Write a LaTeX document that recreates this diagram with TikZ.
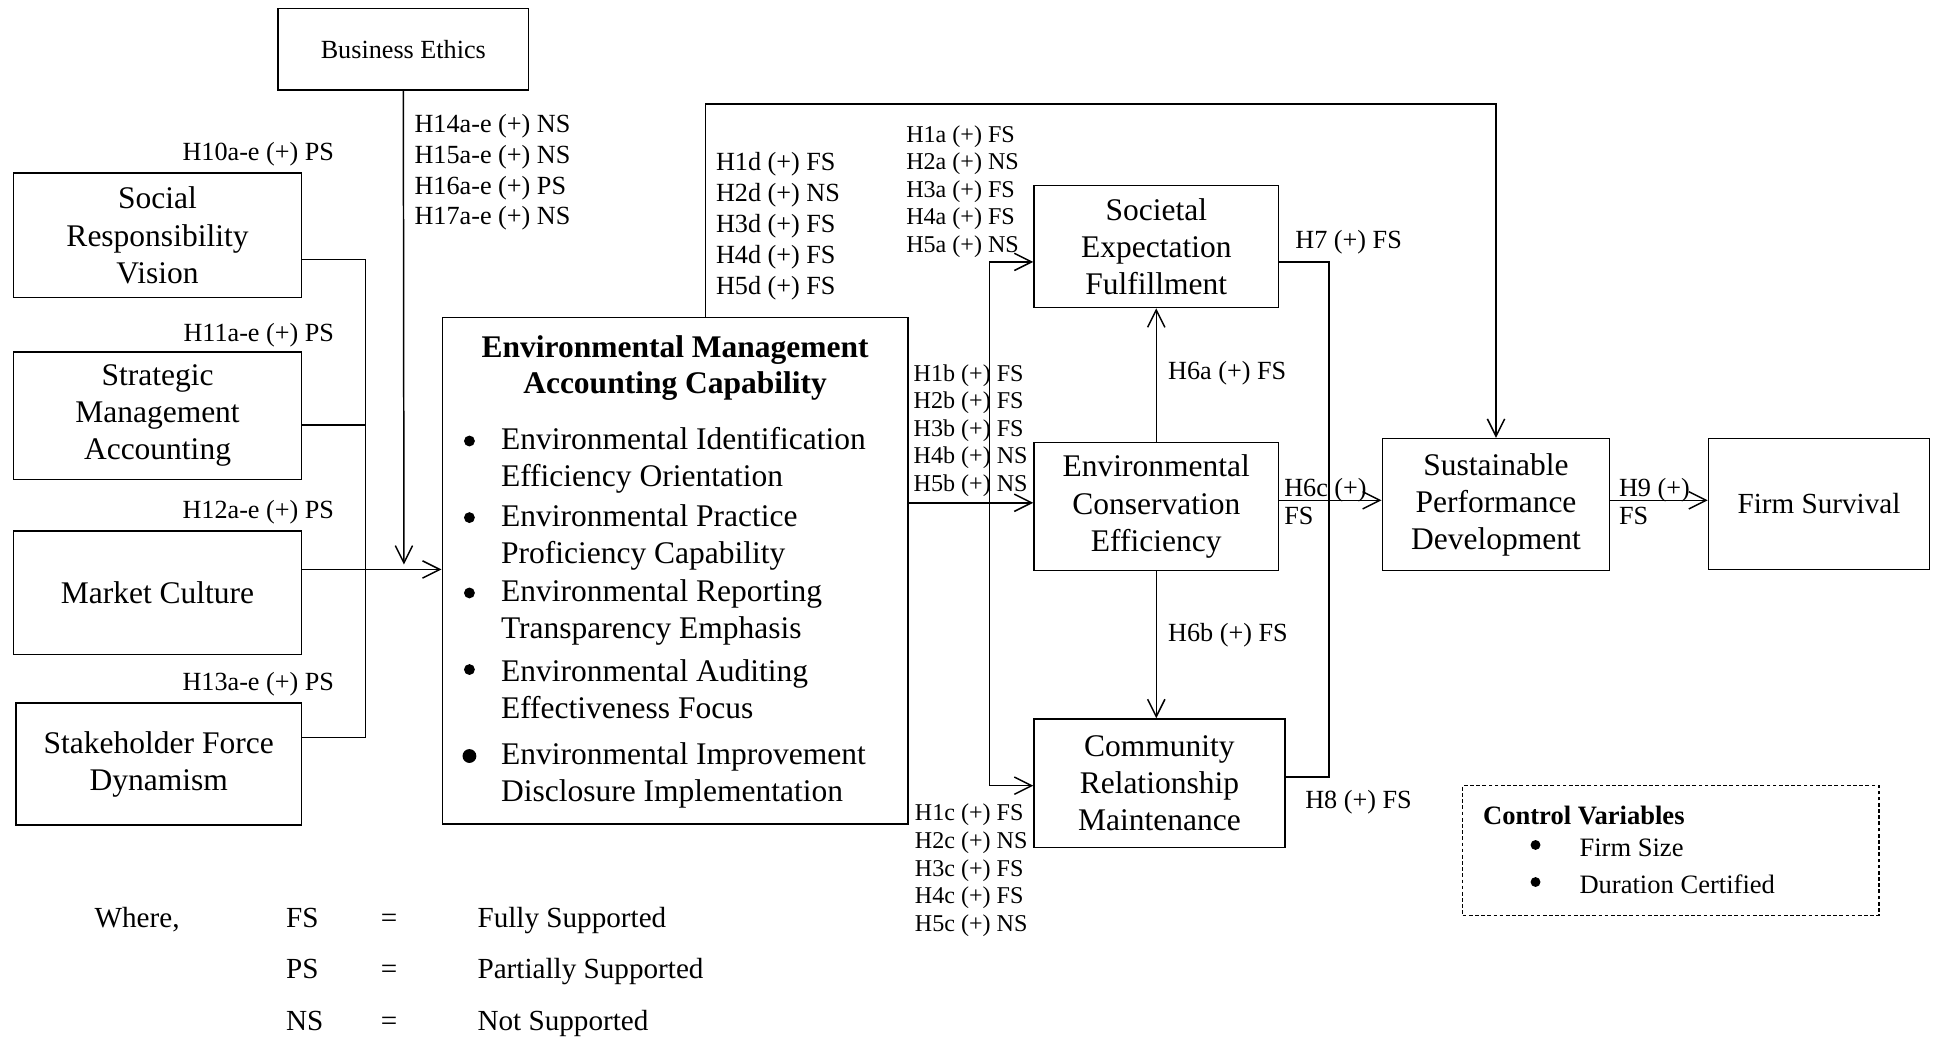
\documentclass[tikz,border=0pt]{standalone}
\usepackage{fontspec}
\setmainfont{Liberation Serif}
\usetikzlibrary{arrows.meta}

\begin{document}
\begin{tikzpicture}[
  x=0.5pt, y=-0.5pt, line width=0.6pt,
  box/.style={draw, inner sep=0pt, align=center, font=\fontsize{12.75}{15}\selectfont},
  hyp/.style={inner sep=0pt, align=left, font=\fontsize{10.6}{12.5}\selectfont},
  hypsm/.style={inner sep=0pt, align=left, font=\fontsize{9.75}{11.15}\selectfont},
  item/.style={inner sep=0pt, align=left, anchor=west, font=\fontsize{12.75}{15}\selectfont},
  key/.style={inner sep=0pt, anchor=base west, font=\fontsize{11.8}{14}\selectfont},
  arr/.style={-{Straight Barb[length=7pt, width=7pt]}}
]
  \useasboundingbox (0,0) rectangle (1568,839);

  % antecedents
  \node[box, minimum width=101.5pt, minimum height=33pt, font=\fontsize{10.6}{12.5}\selectfont] (ethics) at (326.5,40) {Business Ethics};
  \node[box, minimum width=116.5pt, minimum height=50.5pt] (srv) at (127.5,190.5) {Social\\Responsibility\\Vision};
  \node[box, minimum width=116.5pt, minimum height=51.5pt] (sma) at (127.5,336.5) {Strategic\\Management\\Accounting};
  \node[box, minimum width=116.5pt, minimum height=50pt] (mc) at (127.5,480) {Market Culture};
  \node[box, minimum width=115.5pt, minimum height=49.5pt] (sfd) at (128.5,618.5) {Stakeholder Force\\Dynamism};

  % capability box
  \node[box, minimum width=188.5pt, minimum height=205pt] (emac) at (546.5,462) {};
  \node[inner sep=0pt, align=center, font=\bfseries\fontsize{12.75}{14.5}\selectfont] (emactitle) at (546.5,298) {Environmental Management\\Accounting Capability};
  \foreach \ya/\rad/\first/\second [count=\i] in {
      357/2.2pt/Environmental Identification/Efficiency Orientation,
      419/2.2pt/Environmental Practice/Proficiency Capability,
      480/2.2pt/Environmental Reporting/Transparency Emphasis,
      542/2.2pt/Environmental Auditing/Effectiveness Focus,
      612/2.8pt/Environmental Improvement/Disclosure Implementation} {
    \fill (380,\ya) circle (\rad);
    \node[item] (item\i) at (405,\ya+16) {\first\\\second};
  }

  % outcomes
  \node[box, minimum width=99pt, minimum height=49.5pt] (sef) at (936,199.5) {Societal\\Expectation\\Fulfillment};
  \node[box, minimum width=99pt, minimum height=52pt] (ece) at (936,410) {Environmental\\Conservation\\Efficiency};
  \node[box, minimum width=101.5pt, minimum height=52pt] (crm) at (938.5,634) {Community\\Relationship\\Maintenance};
  \node[box, minimum width=92pt, minimum height=53.5pt] (spd) at (1211,408.5) {Sustainable\\Performance\\Development};
  \node[box, minimum width=89.5pt, minimum height=53pt, font=\fontsize{11.8}{14}\selectfont] (survival) at (1472.5,408) {Firm Survival};

  % hypothesis labels
  \node[hyp, anchor=east] (h10) at (271,125) {H10a-e (+) PS};
  \node[hyp, anchor=east] (h11) at (271,271) {H11a-e (+) PS};
  \node[hyp, anchor=east] (h12) at (271,415) {H12a-e (+) PS};
  \node[hyp, anchor=east] (h13) at (271,554) {H13a-e (+) PS};
  \node[hyp, anchor=west] (h14) at (335,139.5) {H14a-e (+) NS\\H15a-e (+) NS\\H16a-e (+) PS\\H17a-e (+) NS};
  \node[hyp, anchor=west] (hd) at (579,183) {H1d (+) FS\\H2d (+) NS\\H3d (+) FS\\H4d (+) FS\\H5d (+) FS};
  \node[hypsm, anchor=west] (ha) at (733,155) {H1a (+) FS\\H2a (+) NS\\H3a (+) FS\\H4a (+) FS\\H5a (+) NS};
  \node[hypsm, anchor=west] (hb) at (739,348.5) {H1b (+) FS\\H2b (+) FS\\H3b (+) FS\\H4b (+) NS\\H5b (+) NS};
  \node[hypsm, anchor=west] (hc) at (740,704.5) {H1c (+) FS\\H2c (+) NS\\H3c (+) FS\\H4c (+) FS\\H5c (+) NS};
  \node[hyp, anchor=west] (h6a) at (945,302) {H6a (+) FS};
  \node[hyp, anchor=west] (h6b) at (945,514) {H6b (+) FS};
  \node[hyp, anchor=west] (h7) at (1048,196) {H7 (+) FS};
  \node[hyp, anchor=west] (h8) at (1056,649) {H8 (+) FS};
  \node[hyp, anchor=west, font=\fontsize{10.6}{11.5}\selectfont] (h6c) at (1039,406) {H6c (+)\\FS};
  \node[hyp, anchor=west, font=\fontsize{10.6}{11.5}\selectfont] (h9) at (1310,406) {H9 (+)\\FS};

  % connectors
  \coordinate (busN) at (296,210);
  \coordinate (busM) at (296,344);
  \coordinate (busS) at (296,597);
  \coordinate (mcrow) at (296,461);
  \coordinate (ethicsend) at (327,457);
  \draw (busN -| srv.east) -- (busN) -- (busS) -- (busS -| sfd.east);
  \draw (busM -| sma.east) -- (busM);
  \draw[arr] (mcrow -| mc.east) -- (mcrow -| emac.west);
  \draw[arr] (ethics.south) -- (ethicsend);

  \coordinate (loopL) at (571,84);
  \coordinate (loopR) at (1211,84);
  \draw[arr] (loopL |- emac.north) -- (loopL) -- (loopR) -- (spd.north);

  \coordinate (brN) at (801,212);
  \coordinate (brM) at (801,407);
  \coordinate (brS) at (801,636);
  \draw[arr] (brM -| emac.east) -- (brM -| ece.west);
  \draw[arr] (brS) -- (brN) -- (brN -| sef.west);
  \draw[arr] (brN) -- (brS) -- (brS -| crm.west);

  \draw[arr] (ece.north) -- (sef.south);
  \draw[arr] (ece.south) -- (ece.south |- crm.north);

  \coordinate (outN) at (1076,212);
  \coordinate (outS) at (1076,629);
  \coordinate (h6row) at (1076,405);
  \draw (outN -| sef.east) -- (outN) -- (outS) -- (outS -| crm.east);
  \draw[arr] (h6row -| ece.east) -- (h6row -| spd.west);
  \draw[arr] (h6row -| spd.east) -- (h6row -| survival.west);

  % control variables
  \node[draw, dash pattern=on 1.5pt off 1pt, inner sep=0pt, minimum width=168.5pt, minimum height=52.5pt] (ctrl) at (1352.5,688.5) {};
  \node[inner sep=0pt, anchor=west, font=\bfseries\fontsize{10.75}{13}\selectfont] (ctrltitle) at (1200,660) {Control Variables};
  \foreach \yy/\var [count=\i] in {684/Firm Size, 714/Duration Certified} {
    \fill (1243,\yy) circle (2pt);
    \node[inner sep=0pt, anchor=west, font=\fontsize{10.75}{13}\selectfont] (ctrl\i) at (1278,\yy+2) {\var};
  }

  % legend
  \node[key] (where) at (76,751) {Where,};
  \foreach \abbr/\desc/\yy [count=\i] in {FS/Fully Supported/751, PS/Partially Supported/792, NS/Not Supported/834} {
    \node[key] (abbr\i) at (231,\yy) {\abbr};
    \node[key, anchor=base] (eq\i) at (315,\yy) {=};
    \node[key] (desc\i) at (386,\yy) {\desc};
  }
\end{tikzpicture}
\end{document}
